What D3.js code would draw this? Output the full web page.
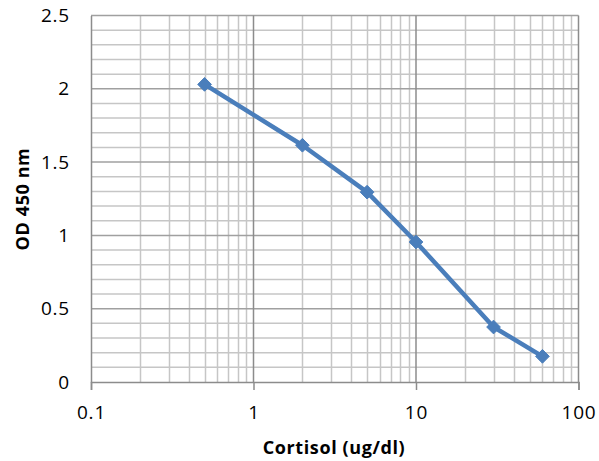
<!DOCTYPE html>
<html><head><meta charset="utf-8">
<script src="https://cdn.jsdelivr.net/npm/d3@7"></script>
<style>body{margin:0;background:#fff}svg{display:block}text{font-family:"Open Sans",Lato,sans-serif;fill:#000}</style>
</head><body><svg id="c" width="599" height="461"></svg>
<script>
const cortisol = [0.5, 2, 5, 10, 30, 60];
const od = [2.03, 1.615, 1.295, 0.955, 0.375, 0.175];
const xTicks = [0.1, 1, 10, 100];
const xTickLabels = ["0.1", "1", "10", "100"];
const yTicks = [0, 0.5, 1, 1.5, 2, 2.5];
const yTickLabels = ["0", "0.5", "1", "1.5", "2", "2.5"];

const svg = d3.select("#c");
const L = 91, R = 578.5, T = 15.5, B = 382;
const x = d3.scaleLog().domain([0.1, 100]).range([L, R]);
const y = d3.scaleLinear().domain([0, 2.5]).range([B, T]);

// minor vertical grid
const minorX = [];
for (let d = 0.1; d < 100; d *= 10) for (let k = 2; k <= 9; k++) minorX.push(+(d * k).toPrecision(3));
const g = svg.append("g");
g.selectAll(".vx").data(minorX).enter().append("line")
  .attr("x1", d => Math.round(x(d)) + 0.5).attr("x2", d => Math.round(x(d)) + 0.5)
  .attr("y1", T).attr("y2", B).attr("stroke", "#c6c6c6").attr("stroke-width", 1.5);
const minorY = d3.range(1, 26).map(i => i / 10).filter(v => Math.abs(v * 2 - Math.round(v * 2)) > 1e-6);
g.selectAll(".hy").data(minorY).enter().append("line")
  .attr("y1", d => y(d)).attr("y2", d => y(d))
  .attr("x1", L).attr("x2", R).attr("stroke", "#c6c6c6").attr("stroke-width", 1.5);
// major
g.selectAll(".my").data(yTicks.slice(1)).enter().append("line")
  .attr("y1", d => y(d)).attr("y2", d => y(d))
  .attr("x1", L).attr("x2", R).attr("stroke", "#a0a0a0").attr("stroke-width", 1.5);
g.selectAll(".mx").data(xTicks.slice(1)).enter().append("line")
  .attr("x1", d => x(d)).attr("x2", d => x(d))
  .attr("y1", T).attr("y2", B).attr("stroke", "#8c8c8c").attr("stroke-width", 1.5);

// axes
const xAxis = d3.axisBottom(x).tickValues(xTicks).tickFormat((d, i) => xTickLabels[i]).tickSize(8).tickPadding(16);
const ax = svg.append("g").attr("transform", `translate(0,${B})`).call(xAxis);
ax.select(".domain").attr("stroke", "#8c8c8c").attr("stroke-width", 1.5);
ax.selectAll(".tick line").attr("stroke", "#8c8c8c").attr("stroke-width", 1.5);
ax.selectAll("text").style("font-size", "19px").style("letter-spacing", "0.8px").attr("fill", "#000");

const yAxis = d3.axisLeft(y).tickValues(yTicks).tickFormat((d, i) => yTickLabels[i]).tickSize(0).tickPadding(21);
const ay = svg.append("g").attr("transform", `translate(${L},0)`).call(yAxis);
ay.select(".domain").attr("stroke", "#8c8c8c").attr("stroke-width", 1.5);
ay.selectAll("text").style("font-size", "19px").style("letter-spacing", "0.8px").attr("fill", "#000");

// line
const pts = cortisol.map((c, i) => [c, od[i]]);
svg.append("path").datum(pts)
  .attr("d", d3.line().x(d => x(d[0])).y(d => y(d[1])))
  .attr("fill", "none").attr("stroke", "#4a7ebb").attr("stroke-width", 4.5).attr("stroke-linejoin", "round");
svg.selectAll(".pt").data(pts).enter().append("path")
  .attr("transform", d => `translate(${x(d[0])},${y(d[1])})`)
  .attr("d", d3.symbol().type(d3.symbolDiamond2).size(120))
  .attr("fill", "#4a7ebb").attr("stroke", "#4a7ebb").attr("stroke-width", 1);

// titles
svg.append("text").attr("x", 334).attr("y", 454).attr("text-anchor", "middle")
  .style("font-size", "18px").style("letter-spacing", "0.6px").style("font-weight", "bold").text("Cortisol (ug/dl)");
svg.append("text").attr("transform", "translate(29,199) rotate(-90)").attr("text-anchor", "middle")
  .style("font-size", "18px").style("letter-spacing", "0.6px").style("font-weight", "bold").text("OD 450 nm");
</script></body></html>
